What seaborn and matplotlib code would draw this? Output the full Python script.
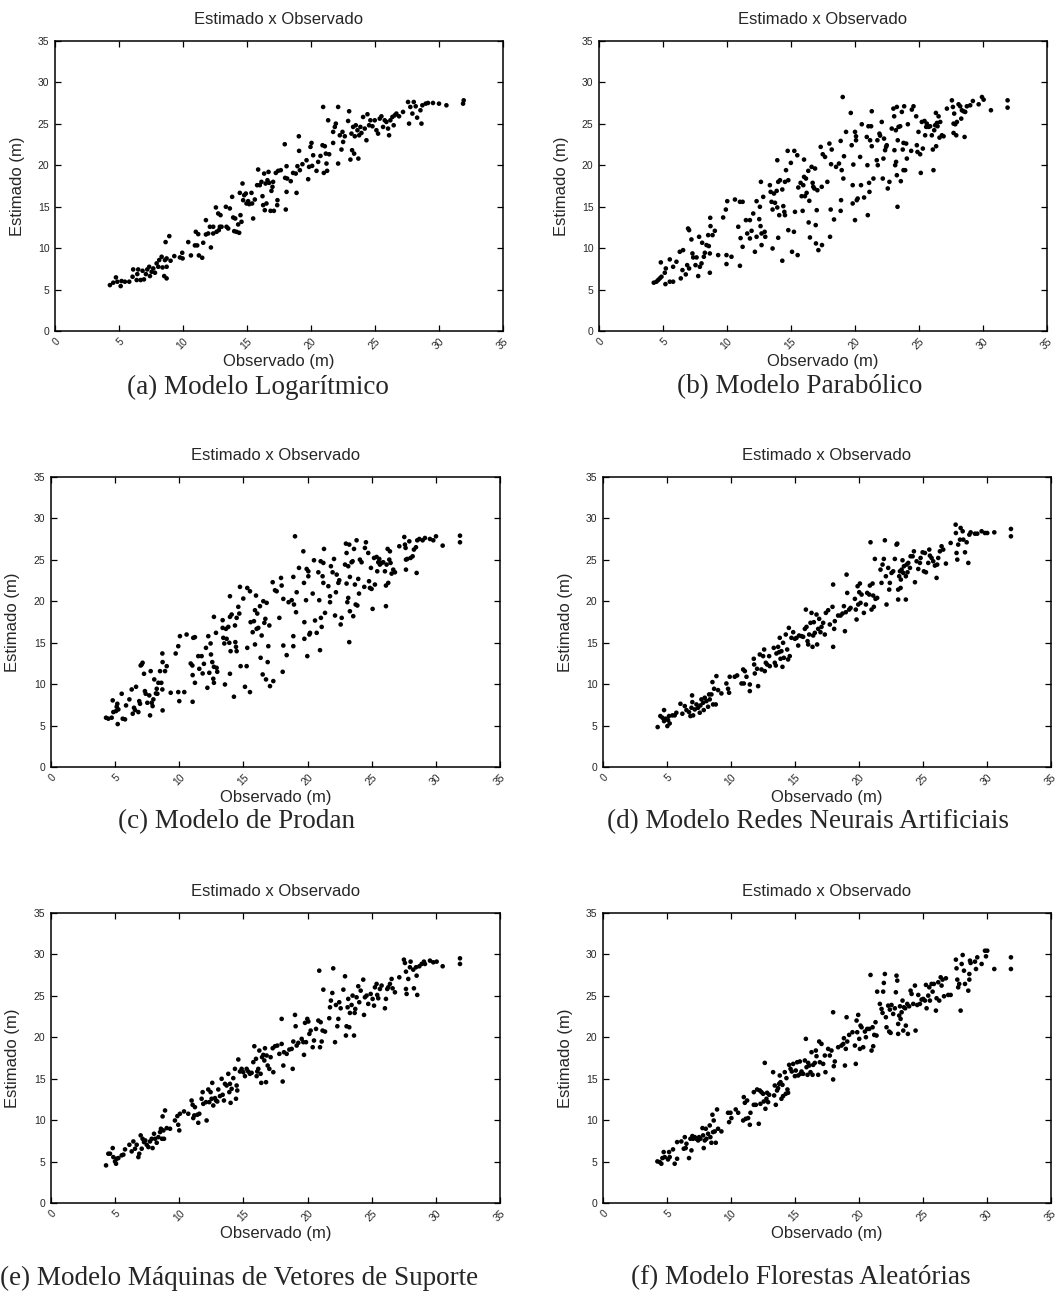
import matplotlib
matplotlib.use("Agg")
import matplotlib.pyplot as plt
import seaborn as sns
import pandas as pd

# ---------------------------------------------------------------------------
# Observed vs. estimated height (m) for each model
# ---------------------------------------------------------------------------
obs_a = [4.29, 4.55, 4.76, 4.87, 5.13, 5.2, 5.46, 5.8, 6.06, 6.11, 6.38, 6.43, 6.5, 6.69, 6.84, 6.95, 7.1, 7.21,
         7.36, 7.42, 7.55, 7.68, 7.81, 7.94, 8.07, 8.14, 8.33, 8.4, 8.53, 8.59, 8.64, 8.72, 8.72, 8.93, 8.72, 9.03,
         9.32, 9.76, 9.94, 9.97, 10.41, 10.62, 10.93, 11.0, 11.11, 11.19, 11.24, 11.5, 11.58, 11.79, 11.79, 11.97,
         12.1, 12.18, 12.36, 12.36, 12.57, 12.62, 12.75, 12.8, 12.88, 12.93, 13.01, 13.35, 13.4, 13.53, 13.66,
         13.84, 13.92, 14.0, 14.08, 14.18, 14.31, 14.39, 14.44, 14.49, 14.57, 14.65, 14.7, 14.78, 14.91, 14.96,
         15.09, 15.17, 15.35, 15.4, 15.48, 15.61, 15.79, 15.87, 16.0, 16.13, 16.21, 16.26, 16.34, 16.39, 16.45,
         16.52, 16.6, 16.68, 16.73, 16.84, 16.91, 16.99, 17.04, 17.1, 17.25, 17.36, 17.38, 17.43, 17.64, 17.95,
         17.98, 18.03, 18.09, 18.09, 18.14, 18.42, 18.6, 18.81, 18.87, 18.94, 19.05, 19.07, 19.13, 19.33, 19.65,
         19.78, 19.85, 19.96, 20.04, 20.09, 20.17, 20.43, 20.56, 20.74, 20.9, 20.95, 21.0, 21.08, 21.16, 21.21,
         21.26, 21.34, 21.42, 21.73, 21.73, 21.86, 21.94, 22.12, 22.12, 22.25, 22.38, 22.46, 22.51, 22.64, 22.9,
         22.98, 23.08, 23.16, 23.21, 23.29, 23.37, 23.42, 23.5, 23.63, 23.7, 23.76, 23.86, 23.94, 24.07, 24.2,
         24.33, 24.41, 24.54, 24.64, 24.8, 24.98, 25.11, 25.24, 25.37, 25.5, 25.63, 25.76, 25.89, 26.02, 26.1,
         26.2, 26.36, 26.46, 26.54, 26.67, 26.88, 27.19, 27.58, 27.66, 27.76, 27.92, 28.03, 28.18, 28.29, 28.55,
         28.63, 28.7, 28.96, 29.14, 29.53, 30.0, 30.58, 31.88, 31.93]
est_a = [5.54, 5.83, 6.47, 5.95, 5.42, 6.03, 5.95, 5.95, 6.55, 7.43, 6.15, 6.87, 7.43, 6.15, 7.27, 6.23, 6.87, 7.43,
         7.75, 6.63, 7.15, 7.55, 7.03, 8.16, 7.75, 8.56, 8.96, 7.67, 6.63, 8.56, 10.73, 6.35, 7.75, 11.45, 8.76, 8.48,
         9.04, 8.88, 9.44, 8.76, 10.73, 9.12, 10.33, 11.97, 10.33, 11.69, 9.12, 8.84, 10.65, 13.38, 11.65, 11.77,
         12.58, 10.08, 12.58, 11.77, 14.91, 11.97, 14.18, 12.17, 12.58, 13.98, 12.58, 14.99, 12.58, 12.37, 14.79,
         16.19, 13.7, 12.05, 13.58, 11.97, 12.86, 11.85, 16.67, 13.98, 13.18, 17.8, 15.79, 16.39, 16.59, 15.39,
         15.67, 15.31, 16.67, 15.39, 13.58, 15.87, 17.6, 19.49, 17.6, 18.0, 16.27, 15.19, 19.0, 14.58, 17.8,
         15.39, 18.2, 19.2, 17.88, 14.5, 16.91, 17.4, 18.0, 14.5, 19.08, 15.19, 15.79, 19.33, 19.41, 22.54,
         18.48, 14.66, 16.79, 19.89, 18.4, 18.08, 19.08, 19.0, 16.67, 19.89, 23.5, 21.74, 19.41, 20.13, 20.61,
         18.32, 19.81, 22.22, 22.7, 19.93, 21.21, 19.33, 20.41, 21.13, 22.42, 27.04, 19.08, 22.3, 21.41, 20.21,
         19.33, 25.43, 21.33, 22.7, 24.03, 24.63, 25.03, 27.04, 20.21, 23.62, 21.9, 24.03, 22.82, 23.5, 25.35,
         26.52, 20.69, 23.82, 21.82, 24.63, 21.41, 23.5, 24.83, 24.23, 20.81, 23.62, 24.63, 23.9, 25.83, 24.43,
         23.02, 26.16, 24.83, 25.43, 24.71, 25.43, 24.23, 23.82, 25.63, 25.91, 24.63, 25.43, 25.23, 24.43, 23.62,
         25.43, 25.83, 24.83, 26.03, 26.24, 25.91, 26.44, 27.64, 25.03, 27.04, 26.24, 27.64, 27.12, 25.75, 26.64,
         25.03, 27.24, 27.44, 27.52, 27.52, 27.44, 27.24, 27.44, 27.84]

obs_b = [4.28, 4.49, 4.62, 4.75, 4.83, 4.88, 5.14, 5.19, 5.22, 5.53, 5.53, 5.79, 5.79, 6.05, 6.31, 6.39, 6.52, 6.57,
         6.78, 6.89, 6.96, 7.04, 7.04, 7.22, 7.3, 7.36, 7.54, 7.62, 7.75, 7.82, 7.88, 8.01, 8.06, 8.19, 8.27, 8.4,
         8.53, 8.58, 8.66, 8.66, 8.69, 8.71, 8.87, 9.05, 9.31, 9.7, 9.91, 9.96, 9.96, 10.02, 10.35, 10.62, 10.88,
         11.01, 11.01, 11.06, 11.22, 11.22, 11.48, 11.58, 11.79, 11.79, 11.92, 12.05, 12.18, 12.31, 12.31, 12.52,
         12.57, 12.62, 12.65, 12.7, 12.7, 12.83, 12.94, 12.99, 13.35, 13.41, 13.48, 13.56, 13.56, 13.67, 13.75,
         13.88, 13.93, 13.93, 14.0, 14.0, 14.08, 14.14, 14.32, 14.32, 14.4, 14.48, 14.53, 14.53, 14.61, 14.74,
         14.79, 14.79, 14.99, 15.08, 15.23, 15.26, 15.31, 15.49, 15.52, 15.57, 15.75, 15.83, 15.91, 15.96, 16.02,
         16.02, 16.09, 16.17, 16.22, 16.35, 16.38, 16.43, 16.48, 16.61, 16.69, 16.74, 16.82, 16.88, 16.93, 16.95,
         17.01, 17.06, 17.14, 17.4, 17.42, 17.32, 17.48, 17.66, 17.84, 18.0, 18.05, 18.1, 18.13, 18.18, 18.36,
         18.52, 18.75, 18.88, 18.88, 18.91, 18.96, 19.04, 19.09, 19.14, 19.3, 19.67, 19.74, 19.82, 19.82, 19.87,
         20.0, 20.0, 20.08, 20.08, 20.14, 20.21, 20.4, 20.47, 20.53, 20.71, 20.92, 20.97, 21.0, 21.05, 21.1, 21.13,
         21.18, 21.26, 21.31, 21.31, 21.44, 21.7, 21.75, 21.78, 21.91, 21.96, 22.09, 22.17, 22.22, 22.27, 22.35,
         22.43, 22.48, 22.56, 22.69, 22.87, 23.0, 23.06, 23.08, 23.14, 23.19, 23.21, 23.27, 23.27, 23.32, 23.34,
         23.4, 23.53, 23.58, 23.66, 23.73, 23.79, 23.79, 23.84, 23.92, 24.0, 24.05, 24.13, 24.39, 24.44, 24.57,
         24.78, 24.83, 24.88, 24.96, 25.09, 25.14, 25.22, 25.3, 25.43, 25.48, 25.56, 25.61, 25.74, 25.87, 26.0,
         26.08, 26.13, 26.19, 26.26, 26.32, 26.34, 26.4, 26.45, 26.53, 26.6, 26.66, 26.79, 26.92, 27.18, 27.57,
         27.65, 27.7, 27.7, 27.75, 27.83, 27.91, 27.96, 28.09, 28.22, 28.3, 28.35, 28.48, 28.56, 28.61, 28.74,
         29.0, 29.21, 29.66, 29.92, 30.05, 30.62, 31.92, 31.92]
est_b = [5.83, 5.95, 6.15, 6.35, 8.28, 6.55, 7.03, 5.66, 7.55, 5.95, 8.64, 5.95, 7.75, 8.36, 9.56, 6.35, 7.35, 9.76,
         6.83, 7.95, 12.37, 12.17, 7.55, 11.05, 9.36, 8.88, 7.95, 8.88, 6.63, 11.37, 7.75, 8.16, 10.65, 8.96, 9.44,
         10.37, 11.57, 10.25, 7.03, 9.36, 13.66, 12.66, 11.57, 12.09, 9.16, 13.7, 14.66, 9.16, 8.08, 15.67, 8.96,
         15.87, 12.58, 15.59, 7.87, 11.21, 15.59, 10.16, 13.38, 11.77, 13.38, 11.17, 12.09, 14.18, 9.56, 15.67,
         11.37, 13.5, 14.99, 12.66, 18.0, 11.77, 10.37, 16.19, 11.97, 11.37, 17.6, 16.79, 15.59, 14.66, 9.96,
         16.59, 15.47, 16.91, 14.91, 20.61, 18.0, 11.25, 13.98, 18.2, 17.08, 8.48, 15.07, 14.38, 18.0, 13.98,
         19.41, 21.74, 18.2, 12.17, 20.29, 9.56, 11.97, 21.74, 14.38, 21.21, 9.16, 17.32, 17.88, 16.27, 14.5,
         17.6, 20.69, 18.6, 16.27, 18.4, 16.67, 19.33, 13.1, 15.71, 11.29, 19.81, 17.88, 17.4, 17.2, 19.61, 12.78,
         10.57, 14.58, 16.99, 9.76, 17.4, 10.37, 22.22, 21.33, 21.01, 18.0, 22.62, 11.37, 14.66, 20.13, 21.9,
         13.46, 19.81, 20.21, 22.94, 14.5, 15.79, 19.41, 28.24, 18.4, 21.09, 24.03, 26.32, 22.42, 17.6, 15.39,
         20.09, 24.03, 13.38, 23.02, 23.5, 15.79, 15.99, 21.01, 17.6, 24.95, 16.11, 23.42, 20.01, 13.98, 24.71,
         17.88, 16.79, 23.02, 24.71, 26.52, 22.3, 18.4, 20.61, 23.02, 20.01, 23.82, 23.58, 25.23, 18.4, 20.81,
         23.22, 21.82, 22.22, 22.42, 17.2, 18.0, 24.43, 26.84, 25.91, 21.82, 20.01, 24.23, 20.41, 27.04, 18.8,
         14.99, 23.02, 24.63, 24.71, 18.08, 26.44, 21.9, 19.41, 22.7, 27.12, 19.41, 22.62, 20.81, 24.95, 21.74,
         26.72, 27.12, 25.91, 22.42, 21.61, 24.03, 21.33, 19.08, 25.23, 22.02, 25.35, 23.62, 24.63, 25.03, 24.63,
         24.71, 23.62, 21.9, 19.41, 24.23, 24.83, 26.32, 22.3, 25.11, 24.71, 25.91, 23.34, 25.23, 23.62, 23.5,
         26.84, 27.84, 27.04, 25.03, 23.9, 26.24, 24.95, 23.62, 25.23, 27.36, 27.12, 25.63, 26.64, 26.52, 23.42,
         26.44, 27.12, 27.24, 27.76, 27.36, 28.24, 27.92, 26.64, 26.96, 27.84]

obs_c = [4.29, 4.47, 4.73, 4.81, 4.86, 5.07, 5.12, 5.17, 5.2, 5.25, 5.51, 5.59, 5.77, 5.85, 6.11, 6.29, 6.37, 6.47,
         6.55, 6.63, 6.81, 6.88, 6.94, 6.99, 7.07, 7.14, 7.25, 7.32, 7.38, 7.51, 7.66, 7.72, 7.77, 7.85, 7.92, 7.98,
         8.05, 8.18, 8.24, 8.29, 8.37, 8.5, 8.6, 8.68, 8.7, 8.68, 8.7, 8.89, 9.02, 9.33, 9.72, 9.92, 9.92, 10.0,
         10.05, 10.39, 10.57, 10.89, 11.02, 11.04, 11.04, 11.09, 11.22, 11.22, 11.48, 11.56, 11.74, 11.82, 11.92,
         12.08, 12.19, 12.26, 12.34, 12.44, 12.47, 12.57, 12.65, 12.7, 12.7, 12.7, 12.86, 12.91, 12.96, 13.38,
         13.38, 13.43, 13.51, 13.56, 13.64, 13.69, 13.82, 13.9, 13.95, 13.95, 13.95, 14.0, 14.08, 14.26, 14.34,
         14.37, 14.42, 14.47, 14.47, 14.6, 14.68, 14.73, 14.78, 14.99, 15.12, 15.25, 15.3, 15.3, 15.51, 15.51,
         15.56, 15.72, 15.82, 15.9, 15.9, 15.98, 16.03, 16.08, 16.16, 16.29, 16.34, 16.42, 16.5, 16.55, 16.63,
         16.71, 16.76, 16.81, 16.89, 16.94, 17.02, 17.07, 17.28, 17.33, 17.46, 17.59, 17.8, 17.93, 17.98, 18.06,
         18.11, 18.11, 18.37, 18.52, 18.76, 18.89, 18.89, 18.89, 18.94, 19.02, 19.1, 19.15, 19.33, 19.67, 19.72,
         19.75, 19.75, 19.88, 19.93, 19.98, 20.06, 20.06, 20.14, 20.19, 20.4, 20.5, 20.58, 20.71, 20.84, 20.91,
         20.97, 21.02, 21.04, 21.1, 21.17, 21.23, 21.23, 21.28, 21.36, 21.62, 21.75, 21.75, 21.82, 21.95, 22.06,
         22.14, 22.21, 22.27, 22.4, 22.47, 22.58, 22.66, 22.92, 22.99, 23.04, 23.04, 23.1, 23.17, 23.17, 23.25,
         23.25, 23.3, 23.3, 23.43, 23.51, 23.56, 23.62, 23.69, 23.75, 23.82, 23.88, 23.95, 24.01, 24.08, 24.21,
         24.42, 24.47, 24.55, 24.73, 24.79, 24.86, 24.94, 24.99, 25.07, 25.18, 25.25, 25.38, 25.43, 25.51, 25.59,
         25.64, 25.77, 25.9, 26.03, 26.11, 26.11, 26.16, 26.24, 26.29, 26.37, 26.42, 26.47, 26.55, 26.68, 26.81,
         27.15, 27.54, 27.59, 27.64, 27.67, 27.67, 27.77, 27.93, 28.03, 28.19, 28.29, 28.45, 28.5, 28.55, 28.71,
         28.97, 29.15, 29.54, 29.8, 30.01, 30.53, 31.88, 31.88]
est_c = [5.95, 5.83, 5.95, 8.04, 6.63, 6.75, 7.27, 7.63, 5.18, 6.95, 8.84, 5.83, 5.75, 7.43, 8.16, 9.36, 6.43, 7.15,
         6.87, 9.68, 6.63, 7.95, 7.63, 12.25, 12.37, 12.58, 11.25, 9.16, 8.84, 7.75, 8.64, 6.23, 11.57, 7.75, 7.35,
         8.16, 10.57, 8.88, 9.44, 8.84, 10.16, 11.57, 10.16, 13.7, 12.66, 9.36, 6.83, 11.57, 12.17, 8.96, 13.7,
         14.58, 9.04, 7.95, 15.79, 9.04, 15.99, 12.49, 12.25, 11.09, 7.87, 15.59, 10.16, 15.67, 13.38, 11.85,
         13.38, 11.29, 12.45, 14.38, 9.56, 15.79, 11.37, 14.91, 13.58, 12.66, 10.65, 18.12, 12.09, 10.16, 16.19,
         11.97, 11.49, 17.72, 16.79, 15.59, 14.91, 9.96, 16.67, 15.47, 16.91, 14.99, 20.61, 18.12, 11.25, 13.98,
         18.4, 8.48, 17.08, 15.07, 14.5, 13.98, 18.0, 19.33, 18.52, 21.74, 12.17, 20.33, 9.68, 12.17, 21.61,
         14.38, 21.21, 9.04, 17.48, 16.27, 17.6, 18.92, 14.79, 20.69, 16.67, 18.52, 16.79, 19.41, 13.18, 15.87,
         11.17, 20.01, 17.4, 17.88, 10.57, 19.81, 12.66, 14.58, 17.08, 9.76, 22.3, 10.37, 21.33, 21.21, 18.0,
         22.82, 21.9, 11.49, 20.29, 14.66, 13.5, 19.89, 20.13, 22.94, 15.79, 14.58, 19.61, 27.84, 18.68, 21.09,
         24.03, 26.03, 22.22, 17.48, 15.47, 20.13, 23.9, 13.38, 23.02, 23.62, 15.99, 16.19, 20.93, 24.95, 17.68,
         16.19, 23.5, 20.13, 14.1, 24.83, 18.0, 16.91, 23.02, 22.22, 24.63, 26.32, 18.6, 21.82, 20.61, 19.89,
         24.23, 23.5, 25.11, 18.28, 21.09, 23.22, 22.22, 22.54, 17.2, 18.0, 24.43, 26.96, 25.83, 22.14, 19.89,
         24.23, 20.41, 26.84, 15.07, 18.8, 22.94, 24.71, 24.83, 18.2, 26.32, 22.02, 19.61, 27.36, 19.49, 22.7,
         20.93, 25.03, 24.71, 21.74, 26.44, 27.12, 25.83, 22.42, 21.61, 24.03, 21.49, 19.08, 25.23, 22.02, 25.35,
         23.62, 24.71, 25.11, 24.43, 24.63, 24.71, 23.62, 21.9, 19.41, 24.43, 26.32, 22.22, 25.03, 26.03, 24.63,
         23.34, 23.82, 23.5, 26.64, 27.76, 26.84, 26.44, 25.03, 23.82, 25.11, 27.24, 25.23, 25.43, 26.24, 26.52,
         23.42, 27.36, 27.52, 27.36, 27.64, 27.52, 27.36, 27.84, 26.72, 27.12, 27.92]

obs_d = [4.27, 4.48, 4.64, 4.77, 4.77, 4.9, 5.03, 5.08, 5.16, 5.21, 5.42, 5.6, 5.73, 6.05, 6.2, 6.39, 6.52, 6.72,
         6.83, 6.91, 6.96, 6.98, 7.04, 7.17, 7.3, 7.43, 7.56, 7.61, 7.69, 7.82, 7.87, 7.95, 8.08, 8.21, 8.29, 8.34,
         8.47, 8.55, 8.6, 8.68, 8.81, 8.86, 8.99, 9.25, 9.64, 9.77, 9.85, 9.9, 10.29, 10.48, 10.82, 10.95, 11.0,
         11.08, 11.21, 11.47, 11.47, 11.78, 11.81, 11.86, 12.04, 12.12, 12.25, 12.38, 12.51, 12.59, 12.64, 12.72,
         12.82, 12.98, 13.03, 13.34, 13.42, 13.5, 13.55, 13.68, 13.76, 13.81, 13.87, 13.94, 14.02, 14.07, 14.13,
         14.28, 14.39, 14.46, 14.52, 14.59, 14.72, 14.86, 14.99, 15.12, 15.25, 15.32, 15.51, 15.64, 15.77, 15.85,
         15.9, 15.98, 16.03, 16.11, 16.21, 16.29, 16.37, 16.42, 16.47, 16.55, 16.68, 16.73, 16.81, 16.89, 16.99,
         17.07, 17.2, 17.33, 17.41, 17.59, 17.72, 17.93, 17.98, 17.98, 18.06, 18.11, 18.37, 18.56, 18.71, 18.82,
         18.9, 18.97, 19.03, 19.08, 19.23, 19.34, 19.68, 19.75, 19.81, 19.89, 19.94, 20.02, 20.07, 20.12, 20.2,
         20.38, 20.54, 20.64, 20.8, 20.85, 20.9, 20.98, 21.06, 21.11, 21.16, 21.24, 21.29, 21.42, 21.68, 21.76,
         21.84, 21.94, 22.02, 22.1, 22.15, 22.28, 22.36, 22.41, 22.54, 22.67, 22.8, 22.93, 22.99, 23.06, 23.06,
         23.14, 23.2, 23.25, 23.27, 23.33, 23.4, 23.46, 23.51, 23.66, 23.66, 23.72, 23.79, 23.85, 23.98, 24.03,
         24.19, 24.29, 24.37, 24.5, 24.63, 24.76, 24.81, 24.97, 25.07, 25.15, 25.23, 25.41, 25.49, 25.54, 25.67,
         25.8, 25.93, 26.06, 26.11, 26.19, 26.32, 26.45, 26.58, 26.79, 27.16, 27.55, 27.57, 27.62, 27.68, 27.75,
         27.89, 27.94, 28.1, 28.15, 28.28, 28.41, 28.54, 28.62, 28.72, 29.06, 29.24, 29.58, 29.84, 30.02, 30.57,
         31.87, 31.87]
est_d = [4.82, 6.15, 5.95, 6.87, 5.54, 5.83, 4.94, 5.66, 6.15, 5.26, 6.23, 6.23, 6.55, 7.63, 6.43, 7.35, 6.87, 6.63,
         6.15, 7.15, 8.64, 7.83, 6.23, 6.95, 7.55, 7.15, 6.55, 7.43, 8.16, 7.75, 6.87, 8.36, 7.95, 7.27, 8.76, 8.16,
         8.76, 10.25, 7.55, 9.44, 7.55, 10.97, 9.28, 8.88, 10.08, 9.44, 8.96, 10.89, 10.89, 11.05, 10.08, 11.77,
         10.08, 11.57, 10.89, 9.96, 9.16, 13.06, 12.37, 11.29, 11.85, 9.76, 13.58, 11.77, 13.38, 14.18, 11.57,
         12.58, 12.37, 13.38, 12.17, 14.38, 12.58, 12.25, 13.7, 14.5, 13.86, 15.59, 13.06, 13.98, 12.09, 14.99,
         13.18, 15.99, 14.18, 12.98, 16.79, 13.38, 15.59, 16.27, 15.47, 15.59, 14.66, 15.87, 15.79, 15.71, 16.67,
         19.0, 16.91, 15.19, 14.79, 15.99, 17.4, 18.6, 14.5, 15.87, 17.48, 16.19, 18.4, 14.79, 16.67, 17.88, 16.27,
         16.91, 17.4, 15.99, 18.6, 18.92, 17.2, 19.33, 22.02, 14.5, 16.67, 17.6, 18.28, 18.28, 18.52, 19.41,
         16.39, 18.68, 23.22, 21.01, 19.0, 19.2, 20.29, 19.0, 17.8, 21.82, 19.61, 21.09, 22.14, 19.81, 20.81,
         18.6, 19.61, 21.01, 20.81, 21.9, 27.12, 19.0, 22.14, 20.69, 19.33, 25.11, 20.29, 20.41, 23.82, 22.22,
         24.43, 25.11, 27.36, 23.02, 19.61, 24.03, 21.41, 22.22, 23.42, 23.62, 25.11, 26.84, 26.96, 21.41, 20.21,
         23.02, 23.62, 21.61, 22.62, 23.82, 24.95, 23.42, 24.23, 20.21, 23.02, 24.43, 23.5, 24.63, 24.03, 25.43,
         25.43, 26.03, 22.3, 24.83, 23.9, 24.63, 25.23, 25.91, 23.62, 25.83, 23.5, 24.63, 26.24, 25.51, 25.23,
         24.83, 24.31, 22.82, 24.43, 25.23, 26.03, 26.64, 26.24, 24.55, 27.04, 29.25, 28.24, 25.83, 25.03, 26.84,
         27.44, 28.85, 28.45, 27.44, 25.91, 27.12, 24.63, 28.04, 28.32, 28.16, 28.16, 28.45, 28.24, 28.24, 28.32,
         27.84, 28.73]

obs_e = [4.29, 4.47, 4.6, 4.81, 4.86, 4.99, 5.07, 5.12, 5.25, 5.51, 5.64, 5.77, 6.11, 6.29, 6.42, 6.55, 6.68, 6.81,
         6.88, 6.99, 7.07, 7.14, 7.25, 7.35, 7.46, 7.59, 7.72, 7.85, 7.92, 8.03, 8.11, 8.24, 8.37, 8.5, 8.57, 8.65,
         8.7, 8.76, 8.81, 8.89, 9.02, 9.28, 9.66, 9.85, 9.92, 10.0, 10.05, 10.37, 10.7, 10.96, 11.04, 11.09, 11.17,
         11.22, 11.41, 11.48, 11.56, 11.74, 11.82, 11.87, 12.08, 12.13, 12.26, 12.34, 12.44, 12.52, 12.57, 12.65,
         12.78, 12.86, 12.96, 13.04, 13.17, 13.3, 13.38, 13.48, 13.56, 13.69, 13.82, 13.9, 13.95, 14.0, 14.08,
         14.21, 14.34, 14.42, 14.47, 14.52, 14.6, 14.73, 14.86, 14.99, 15.12, 15.25, 15.38, 15.51, 15.64, 15.77,
         15.85, 15.98, 16.03, 16.08, 16.16, 16.24, 16.34, 16.39, 16.45, 16.55, 16.63, 16.68, 16.76, 16.81, 16.89,
         17.02, 17.12, 17.28, 17.33, 17.46, 17.64, 17.8, 17.98, 17.98, 18.06, 18.11, 18.16, 18.37, 18.58, 18.76,
         18.84, 18.89, 19.02, 19.07, 19.15, 19.28, 19.54, 19.67, 19.72, 19.8, 19.88, 19.98, 20.06, 20.14, 20.24,
         20.4, 20.5, 20.66, 20.84, 20.91, 20.97, 21.02, 21.1, 21.17, 21.23, 21.36, 21.69, 21.75, 21.82, 21.93,
         22.0, 22.14, 22.21, 22.32, 22.4, 22.47, 22.58, 22.79, 22.92, 22.99, 23.04, 23.12, 23.17, 23.25, 23.3,
         23.43, 23.51, 23.62, 23.67, 23.72, 23.82, 23.95, 24.03, 24.14, 24.34, 24.4, 24.47, 24.6, 24.73, 24.92,
         25.07, 25.18, 25.25, 25.38, 25.43, 25.51, 25.64, 25.77, 26.03, 26.11, 26.21, 26.29, 26.42, 26.55, 26.63,
         26.81, 27.15, 27.51, 27.59, 27.67, 27.67, 27.72, 27.85, 27.98, 28.03, 28.24, 28.29, 28.45, 28.5, 28.55,
         28.71, 28.89, 29.07, 29.15, 29.54, 29.8, 30.06, 30.53, 31.88, 31.88]
est_e = [4.54, 5.95, 5.95, 6.63, 5.54, 5.02, 4.74, 5.34, 5.42, 5.75, 5.83, 6.47, 7.03, 6.23, 7.43, 6.55, 7.03, 5.54,
         5.95, 8.16, 6.55, 7.75, 7.35, 7.55, 7.03, 6.75, 7.43, 7.75, 6.63, 8.36, 7.75, 7.27, 7.95, 8.56, 8.96, 7.75,
         10.45, 8.76, 7.75, 11.17, 9.04, 8.96, 9.96, 10.49, 9.44, 8.76, 10.77, 11.05, 10.77, 12.37, 11.85, 10.25,
         10.57, 11.57, 10.65, 9.68, 10.77, 12.58, 13.38, 11.97, 12.17, 9.96, 13.7, 12.17, 13.38, 12.58, 14.5,
         11.77, 12.66, 12.37, 12.25, 13.7, 12.9, 14.99, 13.06, 12.37, 14.38, 14.18, 15.59, 13.38, 14.38, 12.09,
         13.78, 15.07, 16.19, 12.58, 14.18, 13.58, 17.32, 15.87, 16.19, 15.79, 15.31, 16.19, 15.87, 15.59, 15.71,
         17.0, 18.92, 17.4, 15.31, 15.87, 16.19, 18.4, 15.59, 14.5, 17.6, 17.88, 17.2, 18.68, 14.58, 17.8, 16.59,
         16.19, 17.6, 18.68, 15.79, 18.92, 19.0, 18.0, 22.22, 19.2, 14.66, 16.59, 18.2, 18.0, 18.52, 18.6, 16.19,
         19.49, 22.7, 21.33, 19.0, 19.33, 19.81, 19.41, 17.88, 21.74, 19.41, 22.22, 21.9, 20.41, 20.81, 18.8,
         19.61, 21.01, 22.02, 28.04, 18.8, 21.82, 19.49, 20.81, 25.75, 20.69, 22.3, 23.62, 24.43, 25.35, 28.32,
         19.41, 23.9, 21.33, 22.22, 24.23, 23.5, 25.75, 27.36, 20.21, 21.33, 23.62, 24.63, 21.21, 22.94, 23.9,
         25.03, 20.21, 22.94, 23.42, 24.83, 26.16, 24.23, 25.63, 26.96, 22.7, 24.83, 25.03, 24.03, 25.23, 24.63,
         23.82, 26.03, 26.44, 25.11, 24.71, 25.83, 26.24, 23.5, 24.63, 25.83, 26.03, 26.44, 27.04, 25.91, 25.43,
         27.24, 29.37, 28.97, 27.92, 25.83, 25.23, 27.04, 28.45, 29.13, 28.16, 25.91, 28.45, 27.44, 25.11, 28.57,
         28.85, 29.13, 28.85, 29.25, 29.05, 29.13, 28.57, 29.53, 28.85]

obs_f = [4.25, 4.43, 4.56, 4.64, 4.74, 4.82, 5.08, 5.16, 5.21, 5.47, 5.6, 5.79, 5.79, 6.12, 6.31, 6.39, 6.46, 6.52,
         6.72, 6.83, 6.91, 6.98, 7.04, 7.17, 7.3, 7.43, 7.51, 7.61, 7.77, 7.82, 7.87, 7.95, 8.03, 8.08, 8.21, 8.34,
         8.39, 8.47, 8.55, 8.6, 8.65, 8.73, 8.81, 8.91, 8.99, 9.25, 9.77, 9.85, 9.96, 10.03, 10.37, 10.56, 10.95,
         11.0, 11.08, 11.15, 11.26, 11.34, 11.47, 11.52, 11.78, 11.78, 11.94, 12.04, 12.17, 12.25, 12.3, 12.38,
         12.51, 12.56, 12.64, 12.69, 12.77, 12.82, 12.9, 12.98, 13.29, 13.37, 13.42, 13.5, 13.6, 13.68, 13.76,
         13.81, 13.87, 13.94, 14.02, 14.07, 14.2, 14.28, 14.33, 14.41, 14.46, 14.54, 14.65, 14.75, 14.86, 14.99,
         15.06, 15.17, 15.25, 15.38, 15.43, 15.51, 15.64, 15.77, 15.85, 15.9, 15.98, 16.03, 16.11, 16.21, 16.29,
         16.37, 16.42, 16.55, 16.63, 16.68, 16.81, 16.89, 16.94, 17.07, 17.2, 17.33, 17.38, 17.59, 17.72, 17.85,
         17.98, 17.98, 18.03, 18.11, 18.37, 18.63, 18.77, 18.82, 18.9, 18.97, 19.03, 19.08, 19.23, 19.49, 19.68,
         19.75, 19.81, 19.86, 19.94, 20.02, 20.07, 20.12, 20.2, 20.33, 20.46, 20.54, 20.64, 20.8, 20.9, 20.98,
         21.06, 21.11, 21.19, 21.29, 21.37, 21.42, 21.63, 21.76, 21.84, 21.89, 21.94, 22.02, 22.1, 22.15, 22.28,
         22.36, 22.41, 22.47, 22.54, 22.67, 22.8, 22.88, 22.93, 22.99, 23.06, 23.06, 23.14, 23.2, 23.25, 23.33,
         23.4, 23.46, 23.51, 23.61, 23.66, 23.77, 23.82, 23.92, 24.03, 24.11, 24.24, 24.37, 24.42, 24.55, 24.63,
         24.76, 24.89, 25.02, 25.15, 25.23, 25.28, 25.41, 25.49, 25.54, 25.67, 25.75, 25.85, 26.01, 26.06, 26.19,
         26.27, 26.38, 26.45, 26.53, 26.64, 26.79, 26.97, 27.16, 27.57, 27.62, 27.68, 27.75, 27.83, 27.94, 28.02,
         28.1, 28.2, 28.28, 28.54, 28.62, 28.62, 28.67, 28.72, 29.06, 29.14, 29.24, 29.58, 29.84, 29.92, 30.02,
         30.57, 31.87, 31.87]
est_f = [5.02, 4.94, 4.74, 5.42, 6.15, 5.54, 5.26, 6.15, 5.54, 6.47, 4.74, 5.34, 7.35, 7.43, 6.55, 7.95, 6.63, 7.15,
         5.42, 7.75, 6.35, 8.08, 7.75, 7.95, 7.75, 7.55, 7.95, 7.75, 9.04, 8.16, 6.63, 7.55, 8.96, 7.75, 8.36, 9.36,
         7.95, 7.27, 10.65, 8.56, 9.96, 8.64, 7.27, 11.29, 8.96, 8.64, 10.89, 9.76, 10.89, 10.25, 11.29, 10.89,
         9.96, 12.78, 12.09, 10.16, 12.37, 10.25, 9.44, 10.89, 13.38, 11.85, 11.85, 13.7, 9.56, 13.58, 11.97,
         13.38, 13.18, 12.25, 16.91, 11.37, 12.58, 13.3, 12.17, 13.06, 15.79, 12.98, 14.18, 11.85, 13.58, 13.86,
         14.38, 15.39, 14.58, 12.58, 14.26, 12.9, 15.79, 13.18, 15.07, 13.7, 13.3, 16.67, 16.19, 15.87, 16.79,
         15.31, 15.99, 16.99, 15.39, 17.08, 15.59, 15.87, 15.59, 17.2, 19.81, 16.39, 15.47, 16.91, 16.59, 15.79,
         18.2, 15.47, 16.67, 16.91, 18.4, 17.72, 15.47, 19.49, 16.99, 19.2, 16.79, 17.8, 15.79, 18.6, 17.8, 18.4,
         23.02, 14.91, 16.51, 17.08, 18.8, 19.0, 19.2, 19.89, 16.59, 18.6, 22.42, 19.49, 20.29, 20.61, 19.0,
         16.79, 22.02, 20.61, 22.7, 19.81, 18.6, 21.41, 21.21, 18.8, 20.69, 20.01, 21.01, 21.01, 27.52, 18.4,
         21.21, 18.92, 20.29, 21.82, 20.21, 25.51, 24.03, 23.42, 22.94, 25.51, 26.56, 27.64, 22.42, 21.21, 23.82,
         20.69, 23.34, 20.53, 23.9, 22.82, 23.5, 25.43, 27.44, 26.84, 20.41, 21.61, 22.62, 23.74, 22.22, 23.02,
         24.43, 20.81, 23.62, 23.5, 21.41, 24.03, 20.41, 23.74, 25.63, 25.23, 24.03, 26.24, 20.81, 23.9, 25.11,
         24.03, 24.55, 24.63, 24.43, 26.32, 23.5, 25.03, 26.03, 24.43, 26.44, 25.51, 26.44, 23.22, 24.71, 26.64,
         24.43, 27.24, 26.24, 26.96, 24.95, 27.12, 25.11, 25.11, 29.37, 28.32, 26.96, 26.03, 26.44, 23.22, 28.85,
         29.93, 28.04, 26.44, 25.63, 27.64, 26.96, 29.25, 28.97, 29.13, 28.24, 29.65, 28.85, 30.45, 29.77, 30.45,
         28.24, 29.65, 28.24]

captions = [
    "(a) Modelo Logarítmico",
    "(b) Modelo Parabólico",
    "(c) Modelo de Prodan",
    "(d) Modelo Redes Neurais Artificiais",
    "(e) Modelo Máquinas de Vetores de Suporte",
    "(f) Modelo Florestas Aleatórias",
]
panel_title = "Estimado x Observado"
x_label = "Observado (m)"
y_label = "Estimado (m)"
tick_values = [0, 5, 10, 15, 20, 25, 30, 35]

panels = [(obs_a, est_a), (obs_b, est_b), (obs_c, est_c),
          (obs_d, est_d), (obs_e, est_e), (obs_f, est_f)]

# ---------------------------------------------------------------------------
sns.set_theme(style="white")
plt.rcParams["font.family"] = ["Liberation Sans", "DejaVu Sans"]

W, H = 1061, 1301
fig = plt.figure(figsize=(W / 100, H / 100), dpi=100)

# axes boxes in pixels: (left, top, right, bottom)
boxes = [(55, 41, 503, 331), (599, 41, 1047, 331),
         (51, 477, 500, 767), (603, 477, 1051, 767),
         (51, 913, 500, 1203), (603, 913, 1051, 1203)]
# caption centres in pixels
cap_pos = [(258, 387), (800, 387), (237, 822), (808, 822), (239, 1278), (801, 1278)]

for (obs, est), (l, t, r, b), cap, (cx, cy) in zip(panels, boxes, captions, cap_pos):
    ax = fig.add_axes([l / W, 1 - b / H, (r - l) / W, (b - t) / H])
    df = pd.DataFrame({"obs": obs, "est": est})
    sns.scatterplot(data=df, x="obs", y="est", ax=ax, color="black", s=11,
                    linewidth=0, edgecolor="none", legend=False)
    ax.set_xlim(0, 35)
    ax.set_ylim(0, 35)
    ax.set_xticks(tick_values)
    ax.set_yticks(tick_values)
    ax.set_xticklabels([str(v) for v in tick_values], rotation=45, ha="right",
                       va="top", rotation_mode="anchor", fontsize=7.5)
    ax.set_yticklabels([str(v) for v in tick_values], fontsize=7.5)
    ax.tick_params(direction="in", top=True, right=True, length=4, width=0.9,
                   color="black", pad=4, bottom=True, left=True)
    ax.tick_params(axis="x", pad=4)
    for sp in ax.spines.values():
        sp.set_visible(True)
        sp.set_color("black")
        sp.set_linewidth(1.1)
    ax.set_title(panel_title, fontsize=12, pad=12)
    ax.set_xlabel(x_label, fontsize=12)
    ax.set_ylabel(y_label, fontsize=12)
    ax.xaxis.set_label_coords(0.5, -0.078)
    ax.yaxis.set_label_coords(-0.068, 0.5)
    ax.grid(False)
    fig.text(cx / W, 1 - cy / H, cap, ha="center", va="center",
             fontsize=19.5, family=["Liberation Serif", "DejaVu Serif"])

fig.savefig("out.png", dpi=100)
